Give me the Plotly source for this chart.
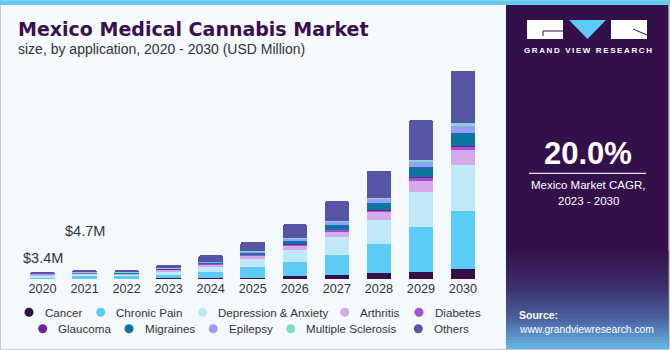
import plotly.graph_objects as go

# ---------------- data (USD Million) ----------------
years = ["2020", "2021", "2022", "2023", "2024", "2025", "2026", "2027", "2028", "2029", "2030"]
categories = ["Cancer", "Chronic Pain", "Depression & Anxiety", "Arthritis", "Diabetes",
              "Glaucoma", "Migraines", "Epilepsy", "Multiple Sclerosis", "Others"]

cancer     = [0.10, 0.15, 0.15, 0.30, 0.60, 0.70, 1.50, 2.00, 2.90, 3.70, 5.10]
chronic    = [0.90, 1.20, 1.15, 1.90, 3.10, 5.30, 7.30, 10.4, 14.9, 23.0, 29.7]
depression = [0.90, 1.20, 1.15, 1.80, 2.90, 4.20, 6.00, 9.00, 12.2, 17.9, 23.5]
arthritis  = [0.35, 0.50, 0.45, 0.80, 1.00, 1.70, 2.40, 2.70, 4.20, 5.60, 7.70]
diabetes   = [0.05, 0.10, 0.10, 0.20, 0.30, 0.40, 0.50, 0.90, 0.90, 1.40, 1.50]
glaucoma   = [0.05, 0.05, 0.05, 0.10, 0.10, 0.10, 0.20, 0.20, 0.30, 0.40, 0.40]
migraines  = [0.10, 0.15, 0.15, 0.30, 0.40, 1.20, 1.70, 2.40, 3.40, 5.10, 6.80]
epilepsy   = [0.10, 0.15, 0.15, 0.20, 0.40, 0.50, 1.00, 1.50, 2.00, 2.60, 3.40]
ms         = [0.05, 0.05, 0.05, 0.10, 0.10, 0.10, 0.20, 0.30, 0.40, 1.20, 1.70]
others     = [0.80, 1.15, 1.10, 1.60, 3.20, 4.70, 7.10, 10.2, 14.1, 20.0, 26.4]

series = [cancer, chronic, depression, arthritis, diabetes, glaucoma, migraines, epilepsy, ms, others]
colors = ["#370f47", "#5ccbf6", "#bfe9f9", "#d5a9ea", "#a34fd6",
          "#6c2399", "#0d76a0", "#9b9dfd", "#7fdccb", "#5655a5"]

value_labels = {"2020": "$3.4M", "2021": "$4.7M"}
cagr_text = "20.0%"

W, H = 670, 350
def px(x): return x / W
def py(y): return 1 - y / H

fig = go.Figure()
for name, vals, col in zip(categories, series, colors):
    fig.add_trace(go.Bar(x=years, y=vals, name=name, marker_color=col,
                         marker_line_width=0, showlegend=False))

shapes = []
annotations = []

# background & frame
shapes.append(dict(type="rect", xref="paper", yref="paper", x0=px(0.5), x1=px(669.5),
                   y0=py(349.5), y1=py(0.5), line=dict(color="#c9c9c9", width=1), layer="below"))
shapes.append(dict(type="rect", xref="paper", yref="paper", x0=px(0), x1=px(670),
                   y0=py(5), y1=py(0.5), line_width=0, fillcolor="#5ccbf6"))
# right panel
shapes.append(dict(type="rect", xref="paper", yref="paper", x0=px(506), x1=px(668.5),
                   y0=py(349), y1=py(5), line_width=0, fillcolor="#34104a"))

# panel bottom gradient
def lerp(c1, c2, t):
    a = [int(c1[i:i+2], 16) for i in (1, 3, 5)]
    b = [int(c2[i:i+2], 16) for i in (1, 3, 5)]
    return "rgb(%d,%d,%d)" % tuple(round(a[k] + (b[k] - a[k]) * t) for k in range(3))
stops = [(250, "#34104a"), (285, "#3b2c69"), (318, "#4a5f9f"), (349, "#66b8e4")]
y = 250
step = 3
while y < 349:
    yc = y + step / 2
    for (ya, ca), (yb, cb) in zip(stops[:-1], stops[1:]):
        if ya <= yc <= yb:
            col = lerp(ca, cb, (yc - ya) / (yb - ya))
    shapes.append(dict(type="rect", xref="paper", yref="paper", x0=px(506), x1=px(668.5),
                       y0=py(min(y + step, 349)), y1=py(y), line_width=0, fillcolor=col))
    y += step

# logo
shapes.append(dict(type="rect", xref="paper", yref="paper", x0=px(527), x1=px(563),
                   y0=py(39), y1=py(20), line_width=0, fillcolor="white"))
shapes.append(dict(type="rect", xref="paper", yref="paper", x0=px(611), x1=px(647),
                   y0=py(39), y1=py(20), line_width=0, fillcolor="white"))
shapes.append(dict(type="path", xref="paper", yref="paper",
                   path="M %f,%f L %f,%f L %f,%f Z" % (px(569), py(20), px(606), py(20), px(587.5), py(39)),
                   line_width=0, fillcolor="#5ccbf6"))
shapes.append(dict(type="line", xref="paper", yref="paper", x0=px(543), x1=px(563),
                   y0=py(31), y1=py(31), line=dict(color="#34104a", width=1)))
shapes.append(dict(type="line", xref="paper", yref="paper", x0=px(543), x1=px(543),
                   y0=py(31), y1=py(36), line=dict(color="#34104a", width=1)))
shapes.append(dict(type="line", xref="paper", yref="paper", x0=px(633), x1=px(647),
                   y0=py(29), y1=py(35), line=dict(color="#34104a", width=1)))

annotations.append(dict(xref="paper", yref="paper", x=px(587.5), y=py(50.7), showarrow=False,
                        text="\u2009".join(list("GRAND VIEW RESEARCH")),
                        font=dict(family="Liberation Sans", size=8, color="white", weight="bold"),
                        xanchor="center", yanchor="middle"))
annotations.append(dict(xref="paper", yref="paper", x=px(588), y=py(153), showarrow=False,
                        text="<b>%s</b>" % cagr_text,
                        font=dict(family="Liberation Sans", size=31, color="white"),
                        xanchor="center", yanchor="middle"))
shapes.append(dict(type="line", xref="paper", yref="paper", x0=px(529), x1=px(646),
                   y0=py(173.3), y1=py(173.3), line=dict(color="#e8e0ee", width=1.3)))
annotations.append(dict(xref="paper", yref="paper", x=px(588), y=py(185.3), showarrow=False,
                        text="Mexico Market CAGR,",
                        font=dict(family="Liberation Sans", size=11.5, color="white"),
                        xanchor="center", yanchor="middle"))
annotations.append(dict(xref="paper", yref="paper", x=px(588), y=py(201), showarrow=False,
                        text="2023 - 2030",
                        font=dict(family="Liberation Sans", size=11.5, color="white"),
                        xanchor="center", yanchor="middle"))
annotations.append(dict(xref="paper", yref="paper", x=px(517), y=py(315.3), showarrow=False,
                        text="<b>Source:</b>",
                        font=dict(family="Liberation Sans", size=10.5, color="white"),
                        xanchor="left", yanchor="middle"))
annotations.append(dict(xref="paper", yref="paper", x=px(517), y=py(329.5), showarrow=False,
                        text="www.grandviewresearch.com",
                        font=dict(family="Liberation Sans", size=10.3, color="white"),
                        xanchor="left", yanchor="middle"))

# titles
annotations.append(dict(xref="paper", yref="paper", x=px(16), y=py(29), showarrow=False,
                        text="<b>Mexico Medical Cannabis Market</b>",
                        font=dict(family="DejaVu Sans", size=19, color="#3a0f4f"),
                        xanchor="left", yanchor="middle"))
annotations.append(dict(xref="paper", yref="paper", x=px(16), y=py(49), showarrow=False,
                        text="size, by application, 2020 - 2030 (USD Million)",
                        font=dict(family="Liberation Sans", size=14, color="#333333"),
                        xanchor="left", yanchor="middle"))

# value labels above first bars
label_y = {"2020": 258, "2021": 230.7}
for yr, txt in value_labels.items():
    annotations.append(dict(xref="x", yref="paper", x=years.index(yr), y=py(label_y[yr]), showarrow=False,
                            text=txt, font=dict(family="Liberation Sans", size=14.5, color="#333333"),
                            xanchor="center", yanchor="middle"))

# legend (two centred rows)
legend_pos = [(29, 312.3), (100.7, 312.3), (202.7, 312.3), (344.7, 312.3), (419, 312.3),
              (42.7, 328.7), (129, 328.7), (213.3, 328.7), (290.7, 328.7), (418.3, 328.7)]
for name, col, (mx, my) in zip(categories, colors, legend_pos):
    r = 4.5
    shapes.append(dict(type="circle", xref="paper", yref="paper", x0=px(mx - r), x1=px(mx + r),
                       y0=py(my + r), y1=py(my - r), line_width=0, fillcolor=col))
    annotations.append(dict(xref="paper", yref="paper", x=px(mx + 13.5), y=py(my), showarrow=False,
                            text=name, font=dict(family="Liberation Sans", size=11.6, color="#333333"),
                            xanchor="left", yanchor="middle"))

ymax = (279 - 60) * 0.51
fig.update_layout(
    width=W, height=H, margin=dict(l=0, r=0, t=0, b=0),
    paper_bgcolor="#f4f9fc", plot_bgcolor="#f4f9fc",
    barmode="stack", bargap=0.417, barcornerradius=2,
    xaxis=dict(domain=[px(21.5), px(484)], type="category", range=[-0.5, len(years) - 0.5],
               showgrid=False, zeroline=False, autorange=False,
               showline=False, ticks="", tickfont=dict(family="Liberation Sans", size=12.7, color="#333333")),
    yaxis=dict(domain=[py(279), py(60)], range=[0, ymax], visible=False, showgrid=False),
    shapes=shapes, annotations=annotations, showlegend=False,
)

fig.write_html("out.html")
